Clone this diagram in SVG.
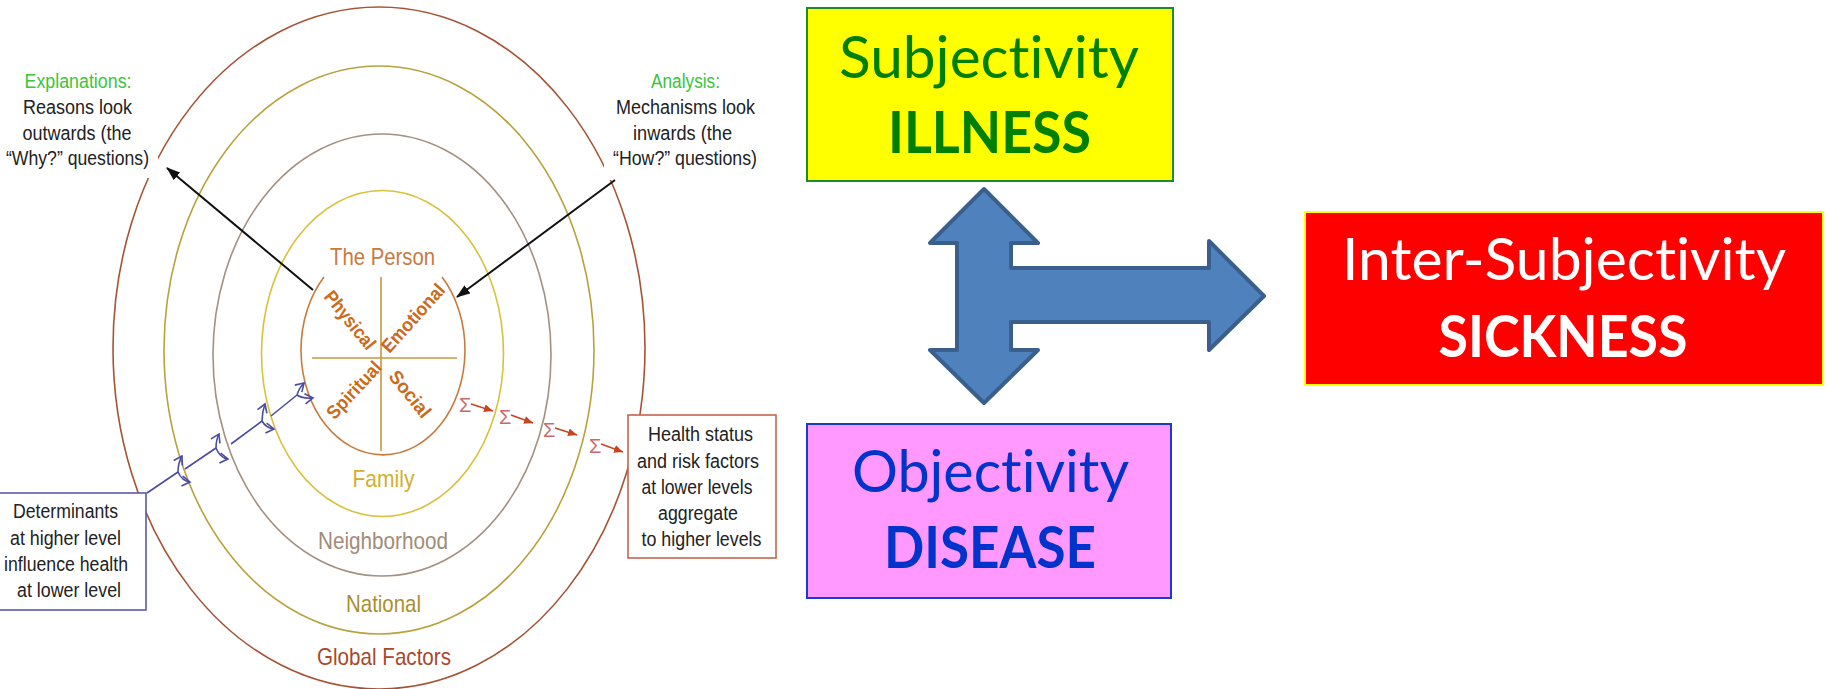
<svg xmlns="http://www.w3.org/2000/svg" width="1827" height="689" viewBox="0 0 1827 689">
<style>
.ring{fill:none;stroke-width:1.6}
.nar{font-family:"Liberation Sans Narrow","Liberation Sans",Arial,sans-serif;text-anchor:middle}
.note{font-size:20px;fill:#222}
.green{fill:#3CC43C}
.lvl{font-size:24px}
.quad{font-family:"Liberation Sans",Arial,sans-serif;font-size:19px;font-weight:bold;fill:#CC6A1A;text-anchor:middle;dominant-baseline:central}
.sig{font-family:"Liberation Sans",Arial,sans-serif;font-size:20px;fill:#C86A6A}
.cal{font-family:Lato,"Open Sans",sans-serif;text-anchor:middle;font-size:58px;font-variant-ligatures:none}
.calb{font-weight:bold}
.blue{stroke:#4B4BA0;stroke-width:1.6;fill:none}
.red{stroke:#C8441E;stroke-width:1.6;fill:none;marker-end:url(#redArr)}
.blk{stroke:#111;stroke-width:2;fill:none;marker-end:url(#blkArr)}
</style>
<defs>
<marker id="blkArr" markerWidth="14" markerHeight="10" refX="13" refY="5" orient="auto" markerUnits="userSpaceOnUse"><path d="M0,0 L14,5 L0,10 Z" fill="#111"/></marker>
<marker id="redArr" markerWidth="9" markerHeight="8" refX="9" refY="4" orient="auto" markerUnits="userSpaceOnUse"><path d="M0,0 L9,4 L0,8 Z" fill="#C8441E"/></marker>
<marker id="chev" markerWidth="12" markerHeight="12" refX="9" refY="6" orient="auto" markerUnits="userSpaceOnUse"><path d="M1,1 L9,6 L1,11" fill="none" stroke="#4B4BA0" stroke-width="1.6"/></marker>
</defs>

<rect width="1827" height="689" fill="#fff"/>

<g id="rings">
<ellipse class="ring" cx="379" cy="348" rx="266" ry="341" stroke="#A65234"/>
<ellipse class="ring" cx="379" cy="350" rx="215" ry="284" stroke="#B8A23C"/>
<ellipse class="ring" cx="382" cy="355" rx="169" ry="221" stroke="#A39080"/>
<ellipse class="ring" cx="382.5" cy="353.5" rx="121" ry="163" stroke="#D8C23C"/>
</g>

<g id="person">
<path class="ring" d="M324,277 A82,105 0 1 0 442,277" stroke="#C87A3C"/>
<line x1="312" y1="358" x2="457" y2="358" stroke="#C8963C" stroke-width="1.6"/>
<line x1="381" y1="277" x2="381" y2="451" stroke="#C8963C" stroke-width="1.6"/>
<text class="nar lvl" x="382.5" y="265" fill="#C87A3C" textLength="105" lengthAdjust="spacingAndGlyphs">The Person</text>
<text class="quad" transform="translate(350,320) rotate(51)" textLength="70" lengthAdjust="spacingAndGlyphs">Physical</text>
<text class="quad" transform="translate(413,318) rotate(-48)" textLength="85" lengthAdjust="spacingAndGlyphs">Emotional</text>
<text class="quad" transform="translate(354,390) rotate(-47)" textLength="71" lengthAdjust="spacingAndGlyphs">Spiritual</text>
<text class="quad" transform="translate(410,394) rotate(51)" textLength="55" lengthAdjust="spacingAndGlyphs">Social</text>
</g>

<g id="levels">
<text class="nar lvl" x="383.5" y="487" fill="#D0B030" textLength="62" lengthAdjust="spacingAndGlyphs">Family</text>
<text class="nar lvl" x="383" y="549" fill="#A08C78" textLength="130" lengthAdjust="spacingAndGlyphs">Neighborhood</text>
<text class="nar lvl" x="383.5" y="611.5" fill="#A89030" textLength="75" lengthAdjust="spacingAndGlyphs">National</text>
<text class="nar lvl" x="384" y="665" fill="#A84828" textLength="134" lengthAdjust="spacingAndGlyphs">Global Factors</text>
</g>

<g id="explanations">
<rect x="0" y="60" width="158" height="118" fill="#fff"/>
<text class="nar note green" x="78" y="88" textLength="107" lengthAdjust="spacingAndGlyphs">Explanations:</text>
<text class="nar note" x="77.5" y="113.5" textLength="109" lengthAdjust="spacingAndGlyphs">Reasons look</text>
<text class="nar note" x="77" y="139.5" textLength="109" lengthAdjust="spacingAndGlyphs">outwards (the</text>
<text class="nar note" x="77.5" y="165" textLength="143" lengthAdjust="spacingAndGlyphs">“Why?” questions)</text>
</g>

<g id="analysis">
<rect x="604" y="60" width="170" height="120" fill="#fff"/>
<text class="nar note green" x="685.5" y="87.5" textLength="69" lengthAdjust="spacingAndGlyphs">Analysis:</text>
<text class="nar note" x="685.5" y="114" textLength="139" lengthAdjust="spacingAndGlyphs">Mechanisms look</text>
<text class="nar note" x="682.5" y="140" textLength="99" lengthAdjust="spacingAndGlyphs">inwards (the</text>
<text class="nar note" x="685" y="165" textLength="144" lengthAdjust="spacingAndGlyphs">“How?” questions)</text>
</g>

<g id="determinants">
<rect x="-1" y="493" width="147" height="117" fill="#fff" stroke="#5A5AA6" stroke-width="1.6"/>
<text class="nar note" x="65.5" y="518" font-size="19" textLength="105" lengthAdjust="spacingAndGlyphs">Determinants</text>
<text class="nar note" x="65.5" y="545" font-size="19" textLength="111" lengthAdjust="spacingAndGlyphs">at higher level</text>
<text class="nar note" x="66" y="571" font-size="19" textLength="124" lengthAdjust="spacingAndGlyphs">influence health</text>
<text class="nar note" x="69" y="597" font-size="19" textLength="104" lengthAdjust="spacingAndGlyphs">at lower level</text>
</g>

<g id="health">
<rect x="628" y="415" width="148" height="143" fill="#fff" stroke="#C4654E" stroke-width="1.6"/>
<text class="nar note" x="700.5" y="441" textLength="105" lengthAdjust="spacingAndGlyphs">Health status</text>
<text class="nar note" x="698" y="468" textLength="122" lengthAdjust="spacingAndGlyphs">and risk factors</text>
<text class="nar note" x="697" y="493.5" textLength="111" lengthAdjust="spacingAndGlyphs">at lower levels</text>
<text class="nar note" x="698" y="519.5" textLength="80" lengthAdjust="spacingAndGlyphs">aggregate</text>
<text class="nar note" x="701.5" y="546" textLength="120" lengthAdjust="spacingAndGlyphs">to higher levels</text>
</g>

<g id="subjectivity">
<rect x="807" y="8" width="366" height="173" fill="#FFFF00" stroke="#1E8C1E" stroke-width="2"/>
<text class="cal" x="989" y="78" fill="#008000" textLength="300" lengthAdjust="spacingAndGlyphs">Subjectivity</text>
<text class="cal calb" x="989.5" y="152.5" fill="#008000" textLength="203" lengthAdjust="spacingAndGlyphs">ILLNESS</text>
</g>

<g id="objectivity">
<rect x="807" y="424" width="364" height="174" fill="#FF99FF" stroke="#1A3CCC" stroke-width="2"/>
<text class="cal" x="990.5" y="492" fill="#0033CC" textLength="277" lengthAdjust="spacingAndGlyphs">Objectivity</text>
<text class="cal calb" x="990" y="568" fill="#0033CC" textLength="212" lengthAdjust="spacingAndGlyphs">DISEASE</text>
</g>

<g id="intersubjectivity">
<rect x="1305" y="212" width="518" height="173" fill="#FF0000" stroke="#FFFF00" stroke-width="2"/>
<text class="cal" x="1564" y="280" fill="#FFFFFF" textLength="444" lengthAdjust="spacingAndGlyphs">Inter-Subjectivity</text>
<text class="cal calb" x="1563" y="357" fill="#FFFFFF" textLength="249" lengthAdjust="spacingAndGlyphs">SICKNESS</text>
</g>

<g id="connectors">
<path d="M984,189 L1038,243 L1011,243 L1011,268 L1209,268 L1209,241 L1264,296 L1209,350 L1209,322 L1011,322 L1011,350 L1038,350 L984,403 L930,350 L957,350 L957,243 L930,243 Z" fill="#4F81BD" stroke="#3A5F8C" stroke-width="4" stroke-linejoin="round"/>

<line class="blk" x1="313" y1="290" x2="167" y2="168"/>
<line class="blk" x1="615" y1="180" x2="457" y2="297"/>

<path class="blue" d="M147,493 L178,472"/>
<path class="blue" d="M178,472 Q178,463 182,456" marker-end="url(#chev)"/>
<path class="blue" d="M178,472 Q182,481 190,482" marker-end="url(#chev)"/>
<path class="blue" d="M185,469 L216,448"/>
<path class="blue" d="M216,448 Q216,440 219,434" marker-end="url(#chev)"/>
<path class="blue" d="M216,448 Q220,458 228,459" marker-end="url(#chev)"/>
<path class="blue" d="M231,444 L262,421"/>
<path class="blue" d="M262,421 Q262,412 265,404" marker-end="url(#chev)"/>
<path class="blue" d="M262,421 Q266,428 274,429" marker-end="url(#chev)"/>
<path class="blue" d="M271,416 L297,395"/>
<path class="blue" d="M297,395 Q299,388 304,383" marker-end="url(#chev)"/>
<path class="blue" d="M297,395 Q303,399 313,398" marker-end="url(#chev)"/>

<text class="sig" x="459" y="412">Σ</text>
<line class="red" x1="471" y1="404" x2="493" y2="411"/>
<text class="sig" x="499" y="424">Σ</text>
<line class="red" x1="511" y1="415" x2="533" y2="423"/>
<text class="sig" x="543" y="437">Σ</text>
<line class="red" x1="555" y1="428" x2="577" y2="435"/>
<text class="sig" x="589" y="453">Σ</text>
<line class="red" x1="601" y1="444" x2="623" y2="452"/>
</g>
</svg>
